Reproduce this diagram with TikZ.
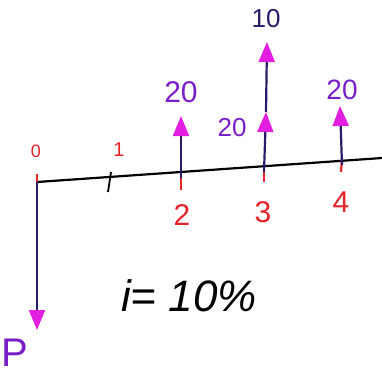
\documentclass[tikz,border=0pt]{standalone}
\usepackage{fontspec}
\setmainfont{Liberation Sans}
\usetikzlibrary{arrows.meta}
\definecolor{shaft}{HTML}{2A1A6A}
\definecolor{head}{HTML}{E21EE0}
\definecolor{lab}{HTML}{7A1FC8}
\definecolor{red}{HTML}{E8242A}
\tikzset{
  flow/.style={draw=shaft, line width=2.2pt, -{Triangle[width=16pt,length=20pt,fill=head,color=head]}},
  axis/.style={draw=black, line width=2.2pt},
  redtick/.style={draw=red, line width=2.2pt},
  blacktick/.style={draw=black, line width=1.8pt},
  ticklab/.style={text=red, inner sep=0pt, font=\fontsize{30}{30}\selectfont},
  amt/.style={text=lab, inner sep=0pt, font=\fontsize{30}{30}\selectfont},
}
\begin{document}
\begin{tikzpicture}[x=1pt,y=-1pt]
\useasboundingbox (0,0) rectangle (382,381);
% axis
\coordinate (a0) at (37,182);
\coordinate (aend) at (382,158);
\draw[axis] (a0) -- (aend);
\coordinate (t1) at (110,177);
\coordinate (t2) at (181,178);
\coordinate (t3) at (264,172);
\coordinate (t4) at (342,165);
% ticks
\draw[redtick] (37,174) -- (37,188);
\draw[blacktick] (111,172) -- (108,192);
\draw[redtick] (181,172) -- (181,190);
\draw[redtick] (264,166) -- (264,182);
\draw[redtick] (342,158) -- (341,172);
% tick labels
\node[ticklab, font=\fontsize{18}{18}\selectfont] (l0) at (36,151) {0};
\node[ticklab, font=\fontsize{20}{20}\selectfont] (l1) at (119,150) {1};
\node[ticklab] (l2) at (182,215) {2};
\node[ticklab] (l3) at (263,212) {3};
\node[ticklab] (l4) at (341,202) {4};
% cash flows
\coordinate (p) at (37,330);
\draw[flow] (a0) -- (p);
\node[text=lab, inner sep=0pt, font=\fontsize{40}{40}\selectfont] (P) at (15,353) {P};
\coordinate (c2) at (181,116);
\draw[flow] (t2) -- (c2);
\node[amt] (v2) at (181,92) {20};
\coordinate (m3) at (266,112);
\coordinate (c3) at (267,42);
\draw[flow] (t3) -- (m3);
\draw[flow] (m3) -- (c3);
\node[amt, font=\fontsize{26}{26}\selectfont] (v3a) at (232,128) {20};
\node[amt, text=shaft, font=\fontsize{26}{26}\selectfont] (v3b) at (266,19) {10};
\coordinate (c4) at (340,106);
\draw[flow] (t4) -- (c4);
\node[amt, font=\fontsize{28}{28}\selectfont] (v4) at (342,90) {20};
% interest
\node[inner sep=0pt, font=\itshape\fontsize{44}{44}\selectfont] (rate) at (189,296) {i= 10\%};
\end{tikzpicture}
\end{document}
